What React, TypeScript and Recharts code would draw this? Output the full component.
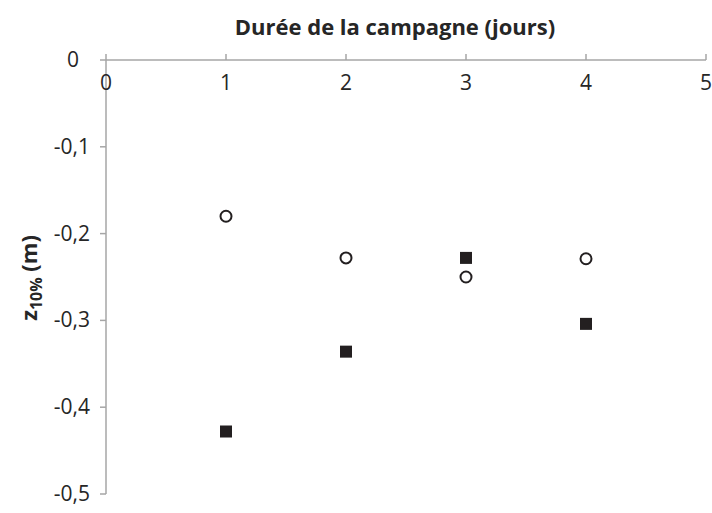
import { Scatter, ScatterChart, XAxis, YAxis } from 'recharts';

const X_TICKS = [0, 1, 2, 3, 4, 5];
const Y_TICKS = [0, -0.1, -0.2, -0.3, -0.4, -0.5];

const DAYS = [1, 2, 3, 4];
const OPEN_SERIES = [-0.18, -0.228, -0.25, -0.229];
const FILLED_SERIES = [-0.428, -0.336, -0.228, -0.304];

const FONT = '"Open Sans", Lato, sans-serif';
const AXIS_GREY = '#a6a6a6';
const MARK = '#231f20';
const TEXT = '#262626';

const openData = DAYS.map((d, i) => ({ x: d, y: OPEN_SERIES[i] }));
const filledData = DAYS.map((d, i) => ({ x: d, y: FILLED_SERIES[i] }));

const fmt = (v: number) => String(v).replace('.', ',');

// x labels sit under the axis line even though the axis is on top
function XTick(props: any) {
  const { x, y, payload } = props;
  return (
    <text x={x} y={y + 36} textAnchor="middle" fontSize={21} fontFamily={FONT} fill={TEXT}>
      {payload.value}
    </text>
  );
}

function YTick(props: any) {
  const { x, y, payload } = props;
  // the 0 label sits a little further left, like the original
  const shift = payload.value === 0 ? 11 : 0;
  return (
    <text x={x - shift} y={y + 7} textAnchor="end" fontSize={21} fontFamily={FONT} fill={TEXT}>
      {fmt(payload.value)}
    </text>
  );
}

function OpenDot(props: any) {
  return <circle cx={props.cx} cy={props.cy} r={5.5} fill="#fff" stroke={MARK} strokeWidth={2} />;
}

function FilledSquare(props: any) {
  return <rect x={props.cx - 6} y={props.cy - 6} width={12} height={12} fill={MARK} />;
}

function YTitle(props: any) {
  const vb = props.viewBox;
  const cx = 37;
  const cy = vb.y + vb.height / 2 + 1;
  return (
    <text
      x={cx}
      y={cy}
      transform={`rotate(-90 ${cx} ${cy})`}
      textAnchor="middle"
      fontFamily={FONT}
      fontWeight="bold"
      fontSize={22}
      fill={TEXT}
    >
      <tspan>z</tspan>
      <tspan fontSize={16} dy={5}>10%</tspan>
      <tspan dy={-5}> (m)</tspan>
    </text>
  );
}

function XTitle() {
  return (
    <text x={395} y={35} textAnchor="middle" fontFamily={FONT} fontWeight="bold" fontSize={22} fill={TEXT}>
      Durée de la campagne (jours)
    </text>
  );
}

export default function App() {
  return (
    <div style={{ position: 'absolute', left: 0, top: 0, background: '#fff' }}>
      <ScatterChart width={712} height={513} margin={{ top: 0, right: 6, bottom: 19, left: 0 }}>
        <XAxis
          type="number"
          dataKey="x"
          orientation="top"
          domain={[0, 5]}
          ticks={X_TICKS}
          height={60}
          stroke={AXIS_GREY}
          strokeWidth={1.5}
          tickSize={6}
          tickMargin={0}
          tick={<XTick />}
          label={<XTitle />}
        />
        <YAxis
          type="number"
          dataKey="y"
          domain={[-0.5, 0]}
          ticks={Y_TICKS}
          width={106}
          stroke={AXIS_GREY}
          strokeWidth={1.5}
          tickSize={6}
          tickMargin={10}
          tick={<YTick />}
          label={<YTitle />}
        />
        <Scatter data={openData} shape={<OpenDot />} isAnimationActive={false} />
        <Scatter data={filledData} shape={<FilledSquare />} isAnimationActive={false} />
      </ScatterChart>
    </div>
  );
}
